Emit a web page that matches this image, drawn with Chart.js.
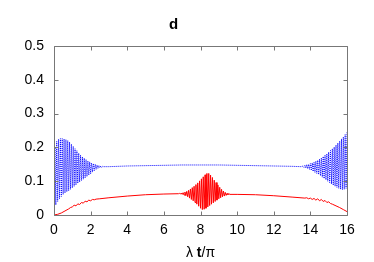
<!DOCTYPE html>
<html>
<head>
<meta charset="utf-8">
<script src="https://cdn.jsdelivr.net/npm/chart.js@4"></script>
<style>
  body { margin: 0; background: #fff; }
</style>
</head>
<body>
<canvas id="myChart" width="374" height="262"></canvas>
<script>
// values
const xTicks = [0, 2, 4, 6, 8, 10, 12, 14, 16];
const yTicks = [0, 0.1, 0.2, 0.3, 0.4, 0.5];

// blue: burst at the start, flat middle, burst at the end
const blueX = [
    0.0, 0.05, 0.1, 0.15, 0.2, 0.25, 0.3, 0.35, 0.4, 0.45, 0.5, 0.55, 0.6, 0.65, 0.7, 0.75, 0.8, 0.85, 0.9, 0.95,
    1.0, 1.05, 1.1, 1.15, 1.2, 1.25, 1.3, 1.35, 1.4, 1.45, 1.5, 1.55, 1.6, 1.65, 1.7, 1.75, 1.8, 1.85, 1.9, 1.95,
    2.0, 2.05, 2.1, 2.15, 2.2, 2.25, 2.3, 2.35, 2.4, 2.45, 2.5, 2.55, 2.6, 2.65, 2.7,
    3, 4, 5, 6, 7, 8, 9, 10, 11, 12, 13, 13.5,
    13.6, 13.65, 13.7, 13.75, 13.8, 13.85, 13.9, 13.95, 14.0, 14.05, 14.1, 14.15, 14.2, 14.25, 14.3, 14.35, 14.4, 14.45, 14.5, 14.55,
    14.6, 14.65, 14.7, 14.75, 14.8, 14.85, 14.9, 14.95, 15.0, 15.05, 15.1, 15.15, 15.2, 15.25, 15.3, 15.35, 15.4, 15.45, 15.5, 15.55,
    15.6, 15.65, 15.7, 15.75, 15.8, 15.85, 15.9, 15.95, 16.0];
const blueY = [
    0.0, 0.2, 0.03, 0.218, 0.04, 0.224, 0.048, 0.226, 0.055, 0.226, 0.061, 0.225, 0.065, 0.223, 0.069, 0.22, 0.072, 0.216, 0.076, 0.21,
    0.08, 0.203, 0.085, 0.196, 0.089, 0.19, 0.094, 0.183, 0.098, 0.177, 0.102, 0.172, 0.106, 0.168, 0.11, 0.164, 0.114, 0.16, 0.118, 0.157,
    0.122, 0.154, 0.127, 0.152, 0.131, 0.15, 0.135, 0.148, 0.138, 0.146, 0.14, 0.145, 0.141, 0.144, 0.143,
    0.143, 0.145, 0.146, 0.147, 0.148, 0.148, 0.148, 0.147, 0.146, 0.145, 0.144, 0.143,
    0.145, 0.141, 0.147, 0.139, 0.149, 0.137, 0.15, 0.135, 0.152, 0.132, 0.154, 0.129, 0.156, 0.126, 0.159, 0.123, 0.162, 0.12, 0.165, 0.116,
    0.169, 0.112, 0.173, 0.108, 0.177, 0.104, 0.181, 0.1, 0.186, 0.096, 0.191, 0.092, 0.196, 0.088, 0.201, 0.085, 0.207, 0.082, 0.213, 0.079,
    0.219, 0.076, 0.225, 0.075, 0.231, 0.076, 0.238, 0.079, 0.245];

// red: slow rise, burst round 8, slow fall
const redX = [
    0, 0.2, 0.4, 0.6, 0.8, 0.9, 1.0, 1.1, 1.2, 1.3, 1.4, 1.5, 1.6, 1.7, 1.8, 1.9, 2.0, 2.1, 2.2, 2.3, 2.5, 3, 4, 5, 6,
    6.8, 6.85, 6.9, 6.95, 7.0, 7.05, 7.1, 7.15, 7.2, 7.25, 7.3, 7.35, 7.4, 7.45, 7.5, 7.55, 7.6, 7.65, 7.7, 7.75,
    7.8, 7.85, 7.9, 7.95, 8.0, 8.05, 8.1, 8.15, 8.2, 8.25, 8.3, 8.35, 8.4, 8.45, 8.5, 8.55, 8.6, 8.65, 8.7, 8.75,
    8.8, 8.85, 8.9, 8.95, 9.0, 9.05, 9.1, 9.15, 9.2, 9.25, 9.3, 9.35, 9.4, 9.45, 9.5, 9.55, 9.6,
    10, 11, 12, 13, 13.7, 13.8, 13.9, 14.0, 14.1, 14.2, 14.3, 14.4, 14.5, 14.6, 14.7, 14.8, 14.9, 15.0, 15.1, 15.2,
    15.4, 15.6, 15.8, 16.0];
const redY = [
    0, 0.002, 0.006, 0.012, 0.018, 0.022, 0.024, 0.029, 0.027, 0.033, 0.031, 0.037, 0.035, 0.041, 0.039, 0.044, 0.042, 0.046, 0.045, 0.047, 0.048, 0.051, 0.056, 0.06, 0.062,
    0.063, 0.064, 0.062, 0.065, 0.061, 0.066, 0.059, 0.068, 0.057, 0.07, 0.054, 0.073, 0.05, 0.077, 0.046, 0.081, 0.042, 0.085, 0.037, 0.09,
    0.032, 0.095, 0.026, 0.101, 0.02, 0.107, 0.016, 0.113, 0.017, 0.119, 0.02, 0.123, 0.024, 0.123, 0.028, 0.118, 0.032, 0.111, 0.036, 0.103,
    0.04, 0.096, 0.044, 0.089, 0.048, 0.082, 0.051, 0.076, 0.054, 0.071, 0.056, 0.067, 0.058, 0.064, 0.06, 0.063, 0.061,
    0.061, 0.06, 0.057, 0.053, 0.05, 0.051, 0.048, 0.05, 0.046, 0.049, 0.044, 0.048, 0.042, 0.046, 0.04, 0.043, 0.037, 0.039, 0.034, 0.032,
    0.027, 0.022, 0.016, 0.01];

const toPoints = (xs, ys) => xs.map((x, i) => ({ x: x, y: ys[i] }));

const FONT = '"Liberation Sans", Arial, sans-serif';

// box round the plot with gnuplot style inner ticks
const boxPlugin = {
    id: 'box',
    afterDatasetsDraw(chart) {
        const ctx = chart.ctx;
        const a = chart.chartArea;
        const xs = chart.scales.x, ys = chart.scales.y;
        const L = Math.round(a.left) + 0.5, R = Math.round(a.right) + 0.5;
        const T = Math.round(a.top) + 0.5, B = Math.round(a.bottom) + 0.5;
        ctx.save();
        ctx.strokeStyle = '#777';
        ctx.lineWidth = 1;
        ctx.beginPath();
        ctx.rect(L, T, R - L, B - T);
        xTicks.forEach(v => {
            const px = Math.round(xs.getPixelForValue(v)) + 0.5;
            ctx.moveTo(px, B); ctx.lineTo(px, B - 4);
            ctx.moveTo(px, T); ctx.lineTo(px, T + 4);
        });
        yTicks.forEach(v => {
            const py = Math.round(ys.getPixelForValue(v)) + 0.5;
            ctx.moveTo(L, py); ctx.lineTo(L + 4, py);
            ctx.moveTo(R, py); ctx.lineTo(R - 4, py);
        });
        ctx.stroke();

        // x axis label: λ t/π with bold t
        const parts = [['λ ', 'normal'], ['t', 'bold'], ['/π', 'normal']];
        ctx.fillStyle = '#000';
        ctx.textBaseline = 'middle';
        ctx.textAlign = 'left';
        let w = 0;
        parts.forEach(p => { ctx.font = p[1] + ' 14px ' + FONT; w += ctx.measureText(p[0]).width; });
        let x = (a.left + a.right) / 2 - w / 2;
        parts.forEach(p => {
            ctx.font = p[1] + ' 14px ' + FONT;
            ctx.fillText(p[0], x, 253);
            x += ctx.measureText(p[0]).width;
        });
        ctx.restore();
    }
};

const data = {
    datasets: [{
        label: 'blue',
        data: toPoints(blueX, blueY),
        borderColor: '#0000ff',
        borderWidth: 1,
        borderDash: [1, 1],
        pointRadius: 0,
        tension: 0
    }, {
        label: 'red',
        data: toPoints(redX, redY),
        borderColor: '#ff0000',
        borderWidth: 1,
        pointRadius: 0,
        tension: 0
    }]
};

const config = {
    type: 'line',
    data,
    options: {
        responsive: false,
        animation: false,
        layout: { padding: { left: 0, right: 27, top: 0, bottom: 0 } },
        plugins: {
            legend: { display: false },
            tooltip: { enabled: false },
            title: {
                display: true,
                text: 'd',
                color: '#000',
                font: { family: FONT, size: 15, weight: 'bold' },
                padding: { top: 16, bottom: 12 }
            }
        },
        scales: {
            x: {
                type: 'linear',
                min: 0,
                max: 16,
                afterBuildTicks: s => { s.ticks = xTicks.map(v => ({ value: v })); },
                afterFit: s => { s.height = 47; },
                grid: { display: false, drawTicks: false },
                border: { display: false },
                ticks: {
                    color: '#000',
                    padding: 7,
                    maxRotation: 0,
                    font: { family: FONT, size: 14 }
                }
            },
            y: {
                min: 0,
                max: 0.5,
                afterBuildTicks: s => { s.ticks = yTicks.map(v => ({ value: v })); },
                afterFit: s => { s.width = 54; },
                grid: { display: false, drawTicks: false },
                border: { display: false },
                ticks: {
                    color: '#000',
                    padding: 10,
                    font: { family: FONT, size: 14 },
                    callback: v => String(v)
                }
            }
        }
    },
    plugins: [boxPlugin]
};

const myChart = new Chart(document.getElementById('myChart'), config);
</script>
</body>
</html>
